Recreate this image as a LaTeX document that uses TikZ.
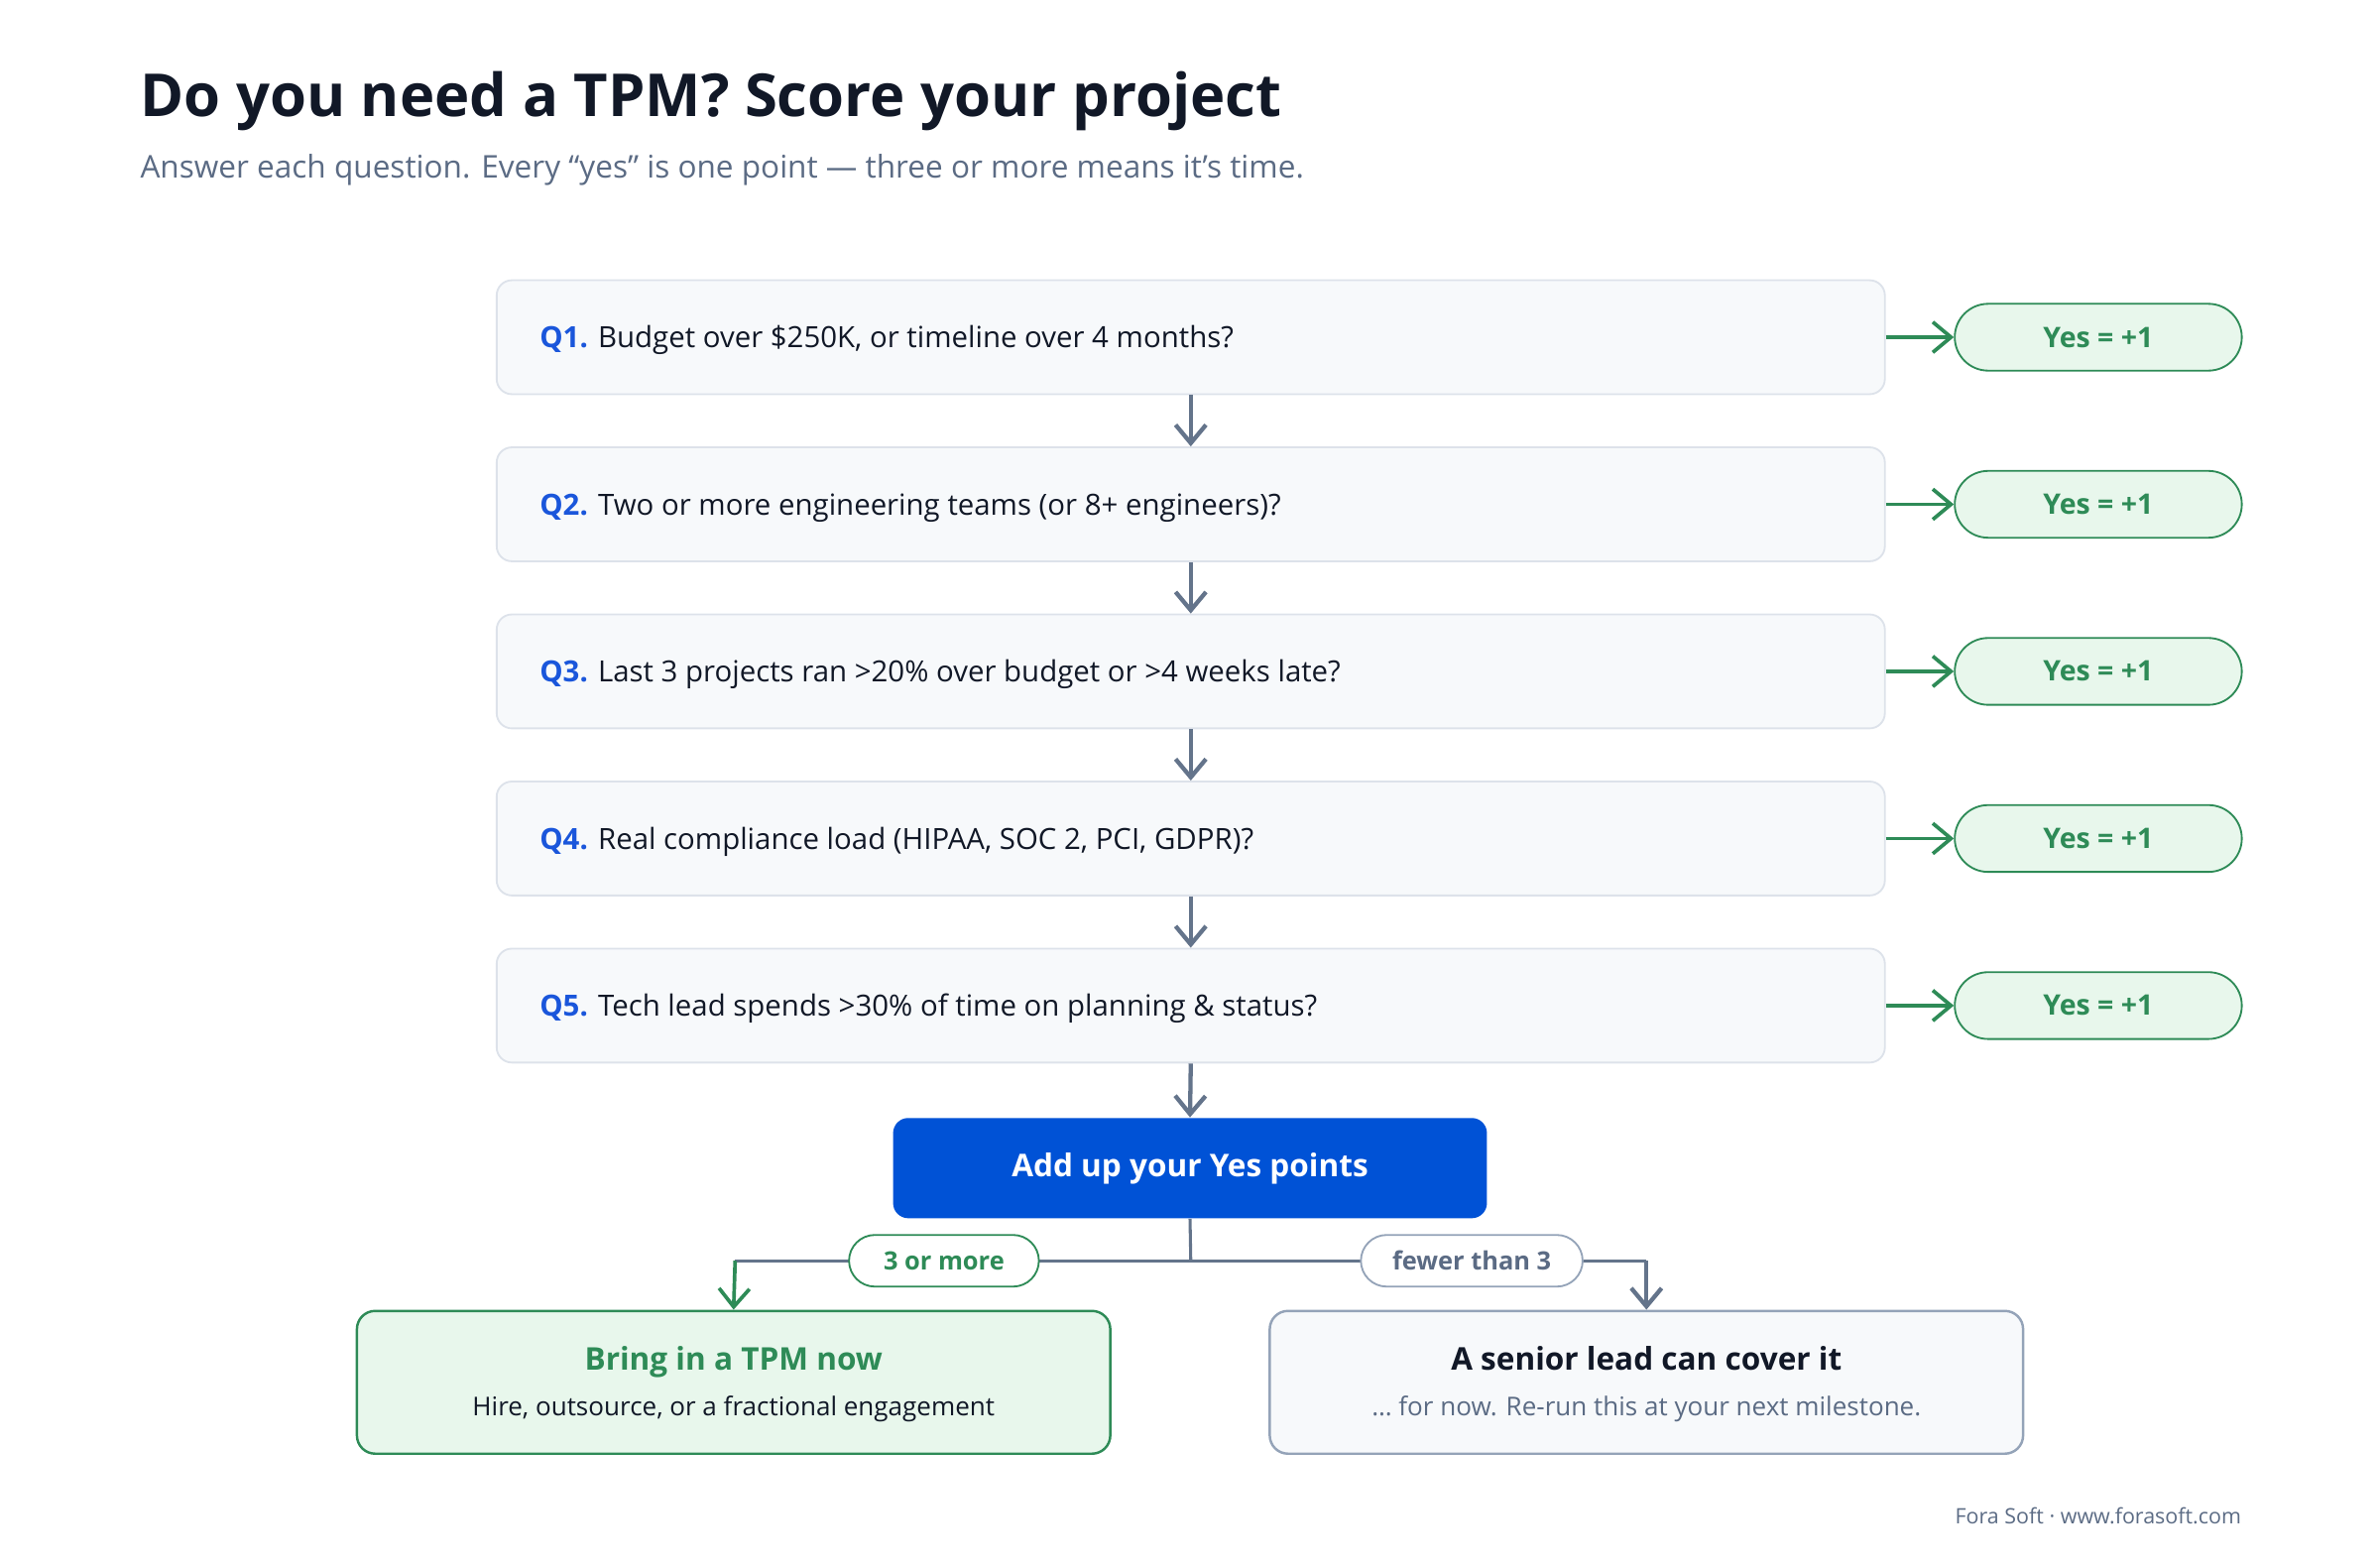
\documentclass[tikz,border=0pt]{standalone}
\usepackage{fontspec}
\setmainfont{Open Sans}
\usetikzlibrary{arrows.meta}
\definecolor{ink}{HTML}{111827}
\definecolor{sub}{HTML}{5B6B84}
\definecolor{qblue}{HTML}{1A56DB}
\definecolor{boxfill}{HTML}{F7F9FB}
\definecolor{boxline}{HTML}{DDE2EA}
\definecolor{gr}{HTML}{2E8B57}
\definecolor{grfill}{HTML}{E8F7EC}
\definecolor{arr}{HTML}{64748B}
\definecolor{btn}{HTML}{0052D6}
\definecolor{rline}{HTML}{94A3B8}
\begin{document}
\begin{tikzpicture}[x=0.5pt,y=-0.5pt,
  qbox/.style={draw=boxline,fill=boxfill,rounded corners=5pt,line width=0.6pt,minimum width=457pt,minimum height=37.5pt,inner sep=0pt},
  pill/.style={draw=gr,fill=grfill,rounded corners=11pt,line width=0.6pt,minimum width=94.5pt,minimum height=22pt,inner sep=0pt,text=gr,font=\fontsize{9.3}{11}\selectfont\bfseries},
  qtxt/.style={anchor=base west,inner sep=0pt,text=ink,font=\fontsize{9.6}{12}\selectfont},
  garrow/.style={draw=arr,line width=1.4pt,-{Straight Barb[length=6pt,width=10pt,line width=1.4pt]}},
  grarrow/.style={draw=gr,line width=1.2pt,-{Straight Barb[length=6pt,width=10pt,line width=1.2pt]}},
  lbl/.style={fill=white,rounded corners=8.5pt,line width=0.6pt,minimum height=17pt,inner sep=0pt,font=\fontsize{8.3}{10}\selectfont\bfseries}]
\useasboundingbox (0,0) rectangle (1567,1032);
\node[anchor=base west,inner sep=0pt,text=ink,font=\fontsize{19.5}{22}\selectfont\bfseries] (title) at (92,77) {Do you need a TPM? Score your project};
\node[anchor=base west,inner sep=0pt,text=sub,font=\fontsize{10.3}{13}\selectfont] (subt) at (92,117) {Answer each question. Every “yes” is one point — three or more means it’s time.};
\foreach \i/\y/\t in {1/222/{Budget over \$250K, or timeline over 4 months?},
                      2/332/{Two or more engineering teams (or 8+ engineers)?},
                      3/442/{Last 3 projects ran >20\% over budget or >4 weeks late?},
                      4/552/{Real compliance load (HIPAA, SOC 2, PCI, GDPR)?},
                      5/662/{Tech lead spends >30\% of time on planning \& status?}}{
  \node[qbox] (q\i) at (784,\y) {};
  \node[qtxt] (qt\i) at (355,\y+7) {\textcolor{qblue}{\bfseries Q\i.} \t};
  \node[pill] (y\i) at (1381.5,\y) {Yes = +1};
  \draw[grarrow] (q\i.east) -- (y\i.west);
}
\foreach \a/\b in {1/2,2/3,3/4,4/5}{\draw[garrow] (q\a.south) -- (q\b.north);}
\node[fill=btn,rounded corners=5pt,minimum width=195.5pt,minimum height=33pt,inner sep=0pt,text=white,font=\fontsize{10.3}{12}\selectfont\bfseries] (add) at (783.5,769) {Add up your Yes points};
\draw[garrow] (q5.south) -- (add.north);
\node[draw=gr,fill=grfill,rounded corners=6pt,line width=0.8pt,minimum width=248pt,minimum height=47pt,inner sep=0pt] (yes) at (483,910) {};
\node[text=gr,font=\fontsize{10.3}{12}\selectfont\bfseries,inner sep=0pt,anchor=base] (yt) at (483,902) {Bring in a TPM now};
\node[text=ink,font=\fontsize{8.5}{10}\selectfont,inner sep=0pt,anchor=base] (ys) at (483,932) {Hire, outsource, or a fractional engagement};
\node[draw=rline,fill=boxfill,rounded corners=6pt,line width=0.8pt,minimum width=248pt,minimum height=47pt,inner sep=0pt] (no) at (1084,910) {};
\node[text=ink,font=\fontsize{10.3}{12}\selectfont\bfseries,inner sep=0pt,anchor=base] (nt) at (1084,902) {A senior lead can cover it};
\node[text=sub,font=\fontsize{8.5}{10}\selectfont,inner sep=0pt,anchor=base] (ns) at (1084,932) {… for now. Re-run this at your next milestone.};
\coordinate (j) at (784,830);
\draw[draw=arr,line width=1pt] (add.south) -- (j);
\draw[draw=arr,line width=1pt] (j) -- (484,830);
\draw[grarrow] (484,830) -- (yes.north);
\draw[draw=arr,line width=1pt] (j) -- (1084,830);
\draw[garrow] (1084,830) -- (no.north);
\node[lbl,draw=gr,text=gr,minimum width=62.5pt] (l3) at (621.5,830) {3 or more};
\node[lbl,draw=rline,text=sub,minimum width=73pt] (lf) at (969,830) {fewer than 3};
\node[anchor=base east,inner sep=0pt,text=sub,font=\fontsize{7}{8}\selectfont] (foot) at (1476,1003) {Fora Soft · www.forasoft.com};
\end{tikzpicture}
\end{document}
